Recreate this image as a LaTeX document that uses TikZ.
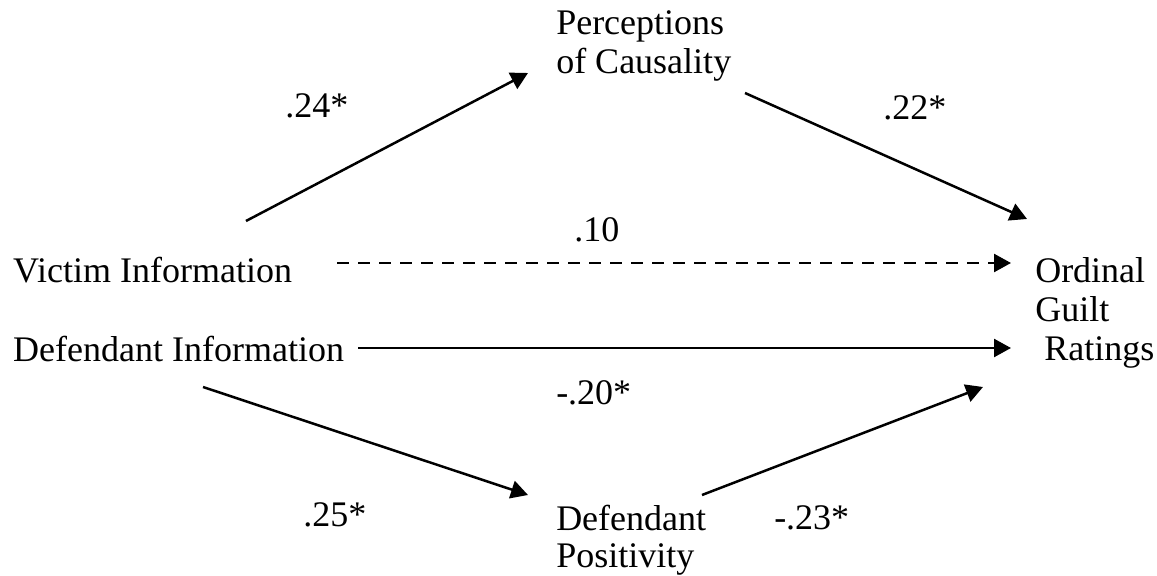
\documentclass[tikz,border=0pt]{standalone}
\usepackage{fontspec}
\setmainfont{Liberation Serif}
\usetikzlibrary{arrows.meta}
\begin{document}
\begin{tikzpicture}[x=0.5pt, y=-0.5pt, line width=1.25pt,
    >={Triangle[length=8.5pt, width=9pt]},
    every node/.style={inner sep=0pt, font=\fontsize{18}{19.5}\selectfont},
    var/.style={anchor=base west, align=left},
    coef/.style={anchor=base west},
    path/.style={->}]
  % 1. canvas
  \useasboundingbox (0,0) rectangle (1157,576);

  % 2. variables (multi-line ones sit on their last baseline)
  \node[var] (victim) at (12,283) {Victim Information};
  \node[var] (defendant) at (12,362) {Defendant Information};
  \node[var] (causality) at (555,74) {Perceptions\\of Causality};
  \node[var] (guilt) at (1034,361) {Ordinal\\Guilt\\\hspace*{0.25em}Ratings};
  \node[var, font=\fontsize{18}{18.5}\selectfont] (positivity) at (555,568) {Defendant\\Positivity};

  % 3. arrow ends
  \coordinate (v-up) at (246,221);
  \coordinate (c-in) at (528,73);
  \coordinate (c-out) at (745,93);
  \coordinate (g-top) at (1027,219);
  \coordinate (v-right) at (337,263);
  \coordinate (g-dash) at (1011,263);
  \coordinate (d-right) at (358,348);
  \coordinate (g-mid) at (1011,348);
  \coordinate (d-down) at (203,387);
  \coordinate (p-in) at (528,495);
  \coordinate (p-out) at (702,495);
  \coordinate (g-low) at (983,387);

  % 4. paths
  \draw[path] (v-up) -- (c-in);
  \draw[path] (c-out) -- (g-top);
  \draw[path, dash pattern=on 6pt off 4.5pt] (v-right) -- (g-dash);
  \draw[path] (d-right) -- (g-mid);
  \draw[path] (d-down) -- (p-in);
  \draw[path] (p-out) -- (g-low);

  % 5. coefficients
  \node[coef] (b-vc) at (284,118) {.24*};
  \node[coef] (b-cg) at (882,120) {.22*};
  \node[coef] (b-vg) at (573,242) {.10};
  \node[coef] (b-dg) at (555,405) {-.20*};
  \node[coef] (b-dp) at (302,527) {.25*};
  \node[coef] (b-pg) at (773,530) {-.23*};
\end{tikzpicture}
\end{document}
